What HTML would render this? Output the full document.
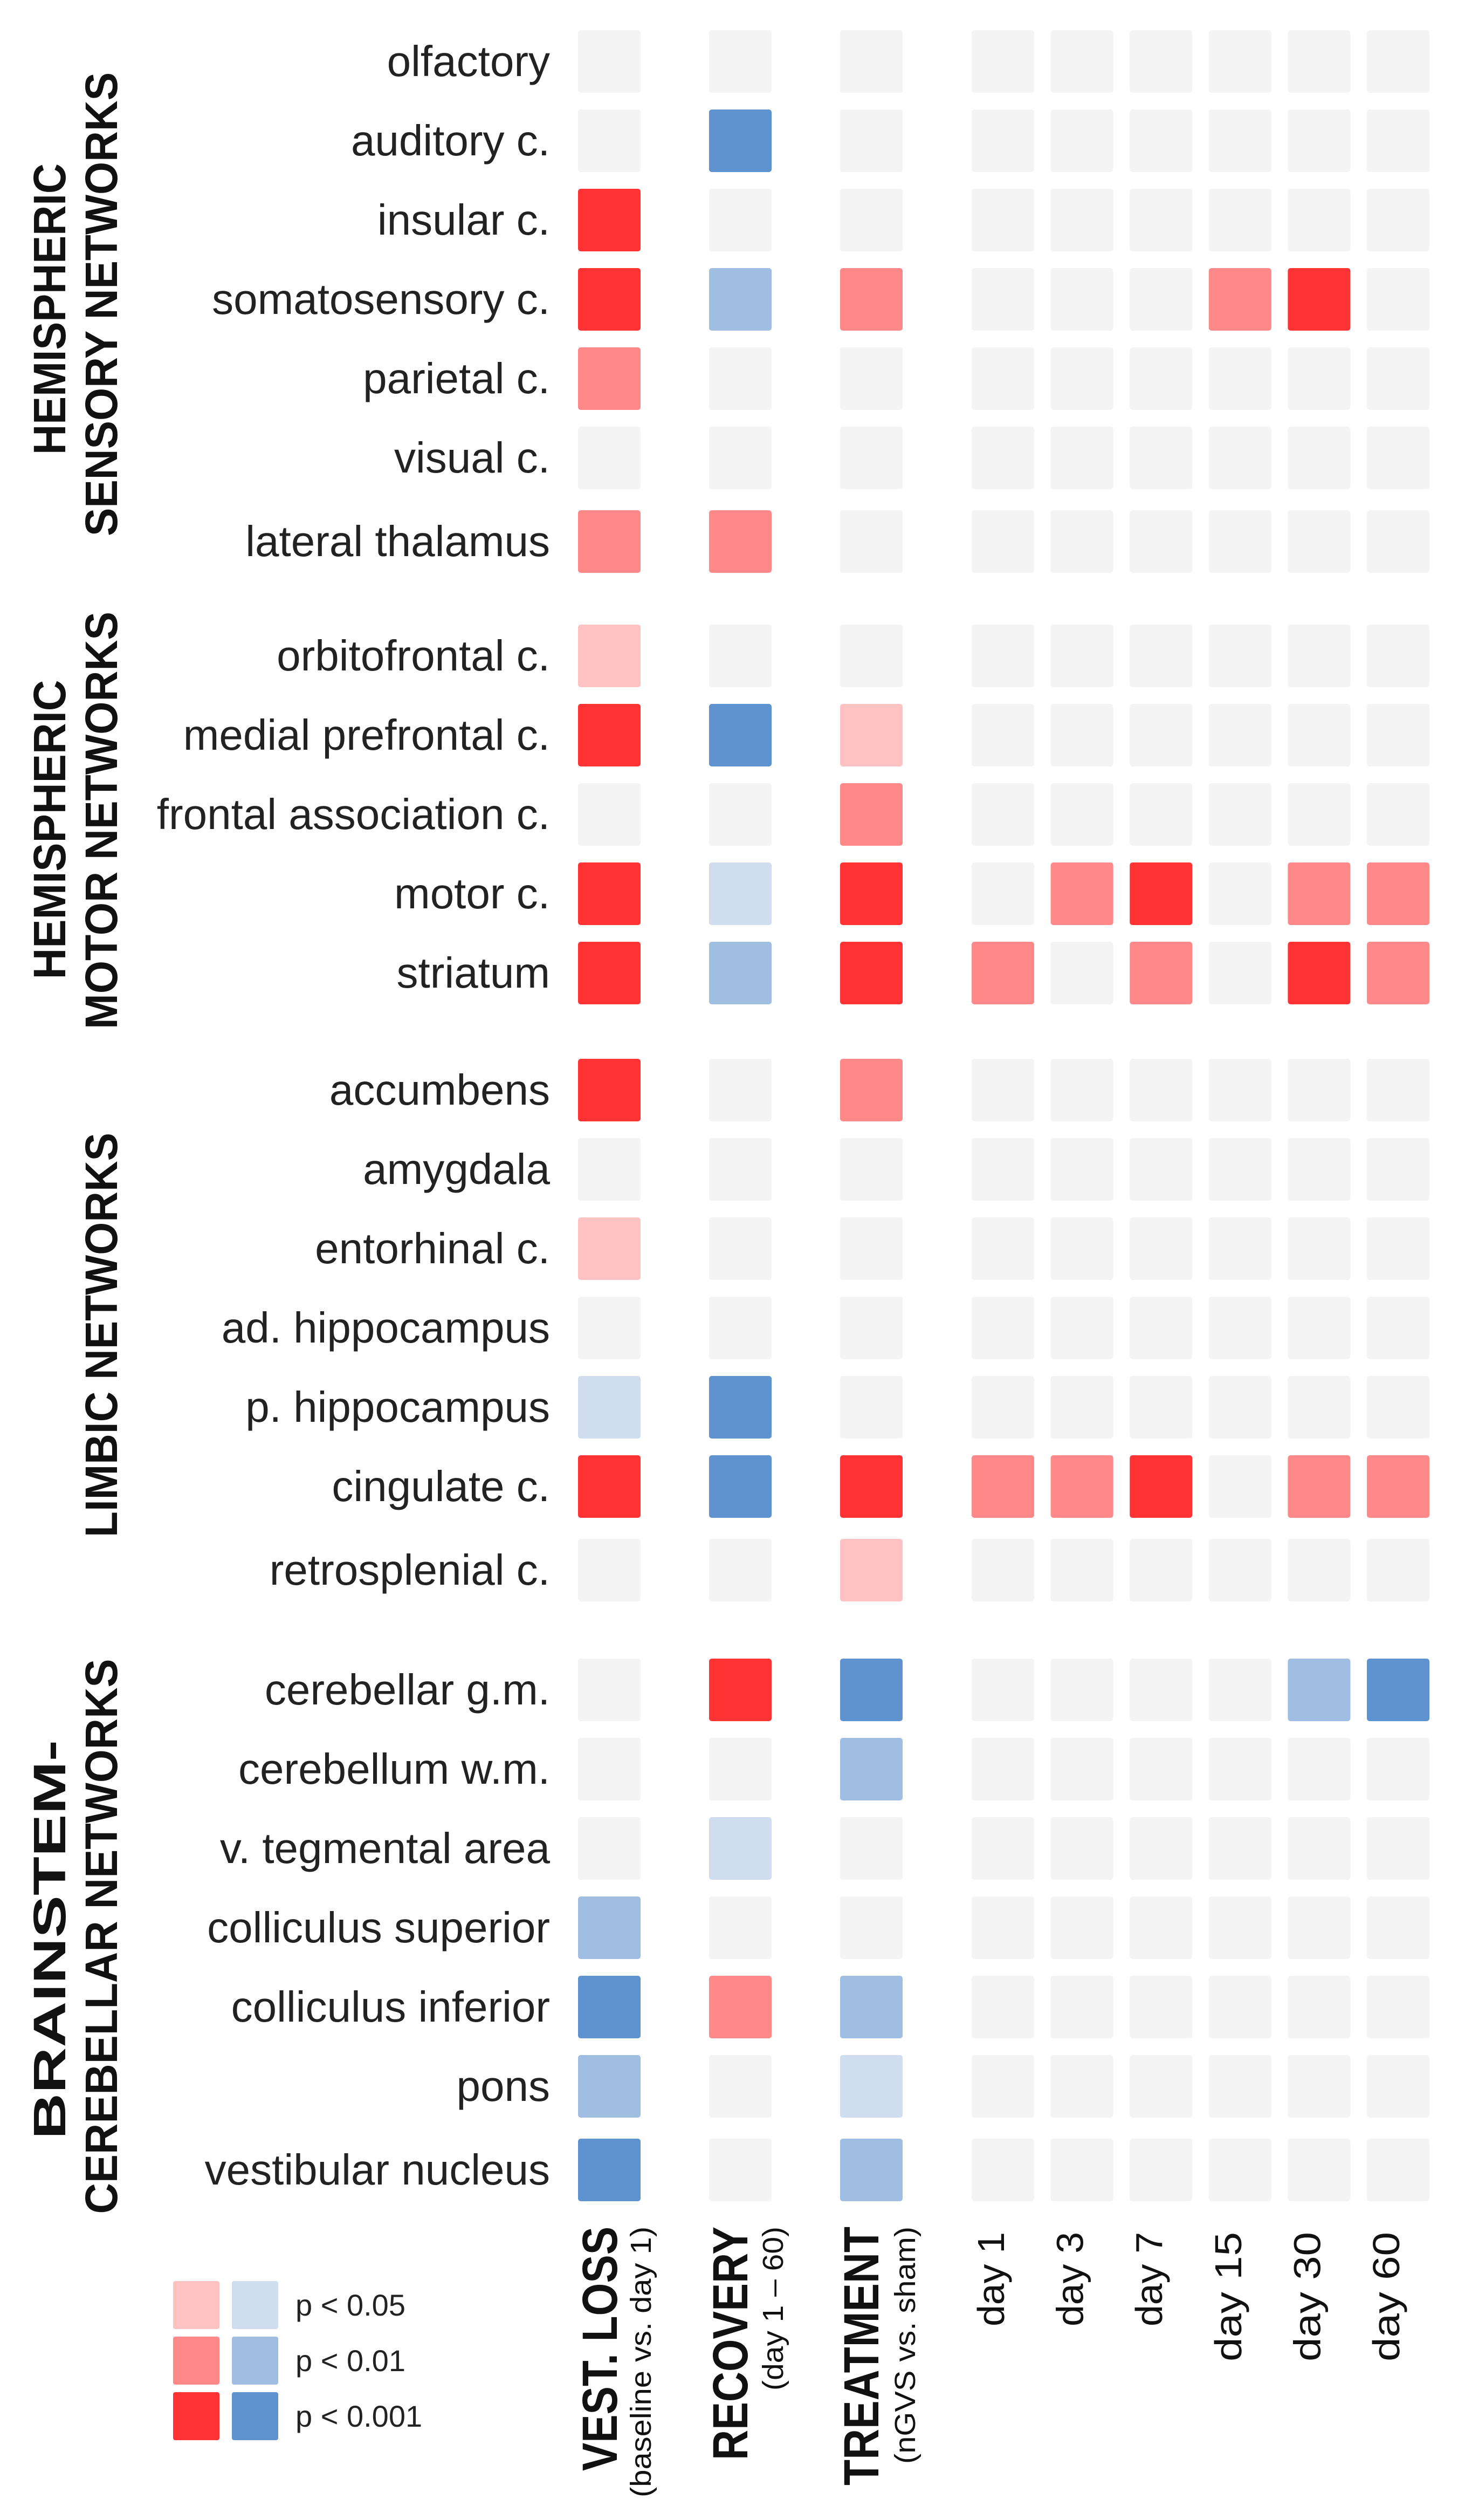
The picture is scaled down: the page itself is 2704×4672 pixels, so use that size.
<!DOCTYPE html>
<html><head><meta charset="utf-8"><style>
html,body{margin:0;padding:0;background:#fff;}
svg{display:block;font-family:"Liberation Sans",sans-serif;}
</style></head><body>
<svg id="chart" width="2704" height="4672" viewBox="0 0 2704 4672" xmlns="http://www.w3.org/2000/svg">
<g id="cells"></g>
<g id="rowlabels"></g>
<g id="collabels"></g>
<g id="groups"></g>
<g id="legend"></g>
</svg>
<script>
const NS="http://www.w3.org/2000/svg";
const regions=["olfactory","auditory c.","insular c.","somatosensory c.","parietal c.","visual c.","lateral thalamus",
"orbitofrontal c.","medial prefrontal c.","frontal association c.","motor c.","striatum",
"accumbens","amygdala","entorhinal c.","ad. hippocampus","p. hippocampus","cingulate c.","retrosplenial c.",
"cerebellar g.m.","cerebellum w.m.","v. tegmental area","colliculus superior","colliculus inferior","pons","vestibular nucleus"];
const regionGroup=[0,0,0,0,0,0,0,1,1,1,1,1,2,2,2,2,2,2,2,3,3,3,3,3,3,3];
const columns=["vest-loss","recovery","treatment","day 1","day 3","day 7","day 15","day 30","day 60"];
const vestLoss=[0,0,3,3,2,0,2, 1,3,0,3,3, 3,0,1,0,-1,3,0, 0,0,0,-2,-3,-2,-3];
const recovery=[0,-3,0,-2,0,0,2, 0,-3,0,-1,-2, 0,0,0,0,-3,-3,0, 3,0,-1,0,2,0,0];
const treatment=[0,0,0,2,0,0,0, 0,1,2,3,3, 2,0,0,0,0,3,1, -3,-2,0,0,-2,-1,-2];
const day1=[0,0,0,0,0,0,0, 0,0,0,0,2, 0,0,0,0,0,2,0, 0,0,0,0,0,0,0];
const day3=[0,0,0,0,0,0,0, 0,0,0,2,0, 0,0,0,0,0,2,0, 0,0,0,0,0,0,0];
const day7=[0,0,0,0,0,0,0, 0,0,0,3,2, 0,0,0,0,0,3,0, 0,0,0,0,0,0,0];
const day15=[0,0,0,2,0,0,0, 0,0,0,0,0, 0,0,0,0,0,0,0, 0,0,0,0,0,0,0];
const day30=[0,0,0,3,0,0,0, 0,0,0,2,3, 0,0,0,0,0,2,0, -2,0,0,0,0,0,0];
const day60=[0,0,0,0,0,0,0, 0,0,0,2,2, 0,0,0,0,0,2,0, -3,0,0,0,0,0,0];
const series=[vestLoss,recovery,treatment,day1,day3,day7,day15,day30,day60];
const legendLabels=["p < 0.05","p < 0.01","p < 0.001"];

const colorFor=v=>({"-3":"#5e93cf","-2":"#a0bde2","-1":"#d0ddef","0":"#f4f4f4","1":"#ffc2c2","2":"#ff8888","3":"#ff3333"})[String(v)];
const groupStart=[56,1158,1963,3075];
const CELL=116;
function colX(c){return c<3?1072+c*243:1802+(c-3)*146.6;}
function rowY(r){
  const g=regionGroup[r];const first=regionGroup.indexOf(g);
  const last=regionGroup.lastIndexOf(g);const i=r-first;
  return groupStart[g]+i*147+(r===last&&g!==1?8:0);
}
function el(tag,attrs,parent,text){const e=document.createElementNS(NS,tag);for(const k in attrs)e.setAttribute(k,attrs[k]);if(text!==undefined)e.textContent=text;parent.appendChild(e);return e;}
const cells=document.getElementById('cells');
series.forEach((s,c)=>{s.forEach((v,r)=>{
  const e=el('rect',{x:colX(c),y:rowY(r),width:CELL,height:CELL,rx:5,fill:colorFor(v)},cells);
  
  
});});
const rl=document.getElementById('rowlabels');
regions.forEach((n,r)=>{
  const t=el('text',{x:1020,y:rowY(r)+CELL/2+27,'text-anchor':'end','font-size':80,fill:'#222'},rl,n);
  
  
});
const cl=document.getElementById('collabels');
function vtext(x,y,txt,size,weight,len,name){
  const t=el('text',{x:0,y:0,transform:`translate(${x},${y}) rotate(-90)`,'text-anchor':'end','font-size':size,'font-weight':weight,fill:'#111'},cl,txt);
  if(len)t.setAttribute('textLength',len),t.setAttribute('lengthAdjust','spacingAndGlyphs');
  
  
}
vtext(1144,4128,"VEST. LOSS",92,"bold",453,"vest-loss-title");
vtext(1207,4128,"(baseline vs. day 1)",54,"normal",502,"vest-loss-subtitle");
vtext(1386,4128,"RECOVERY",92,"bold",433,"recovery-title");
vtext(1452,4128,"(day 1 – 60)",54,"normal",304,"recovery-subtitle");
vtext(1629,4128,"TREATMENT",92,"bold",480,"treatment-title");
vtext(1697,4128,"(nGVS vs. sham)",54,"normal",440,"treatment-subtitle");
for(let c=3;c<9;c++){
  const tl=columns[c];
  vtext(colX(c)+CELL/2+2,4138,tl,70,"normal",tl.length>5?240:175,"day-label");
}
const gr=document.getElementById('groups');
function gtext(x,cy,txt,len,name){
  const t=el('text',{x:0,y:0,transform:`translate(${x},${cy}) rotate(-90)`,'text-anchor':'middle','font-size':84,'font-weight':'bold',fill:'#111',textLength:len,lengthAdjust:'spacingAndGlyphs'},gr,txt);
  
  
}
gtext(121,573,"HEMISPHERIC",540,"group-title-sensory-line1");
gtext(217,564,"SENSORY NETWORKS",860,"group-title-sensory-line2");
gtext(121,1538,"HEMISPHERIC",555,"group-title-motor-line1");
gtext(217,1521,"MOTOR NETWORKS",774,"group-title-motor-line2");
gtext(217,2475,"LIMBIC NETWORKS",750,"group-title-limbic");
gtext(121,3596,"BRAINSTEM-",740,"group-title-brainstem-line1");
gtext(217,3590,"CEREBELLAR NETWORKS",1029,"group-title-brainstem-line2");
const lg=document.getElementById('legend');
legendLabels.forEach((lab,i)=>{
  const y=4229+i*103;
  const a=el('rect',{x:321,y:y,width:86,height:89,rx:4,fill:colorFor(i+1)},lg);
  
  
  const b=el('rect',{x:430,y:y,width:86,height:89,rx:4,fill:colorFor(-(i+1))},lg);
  
  
  const t=el('text',{x:548,y:y+64,'font-size':56,fill:'#222'},lg,lab);
  
  
});
</script>
</body></html>
